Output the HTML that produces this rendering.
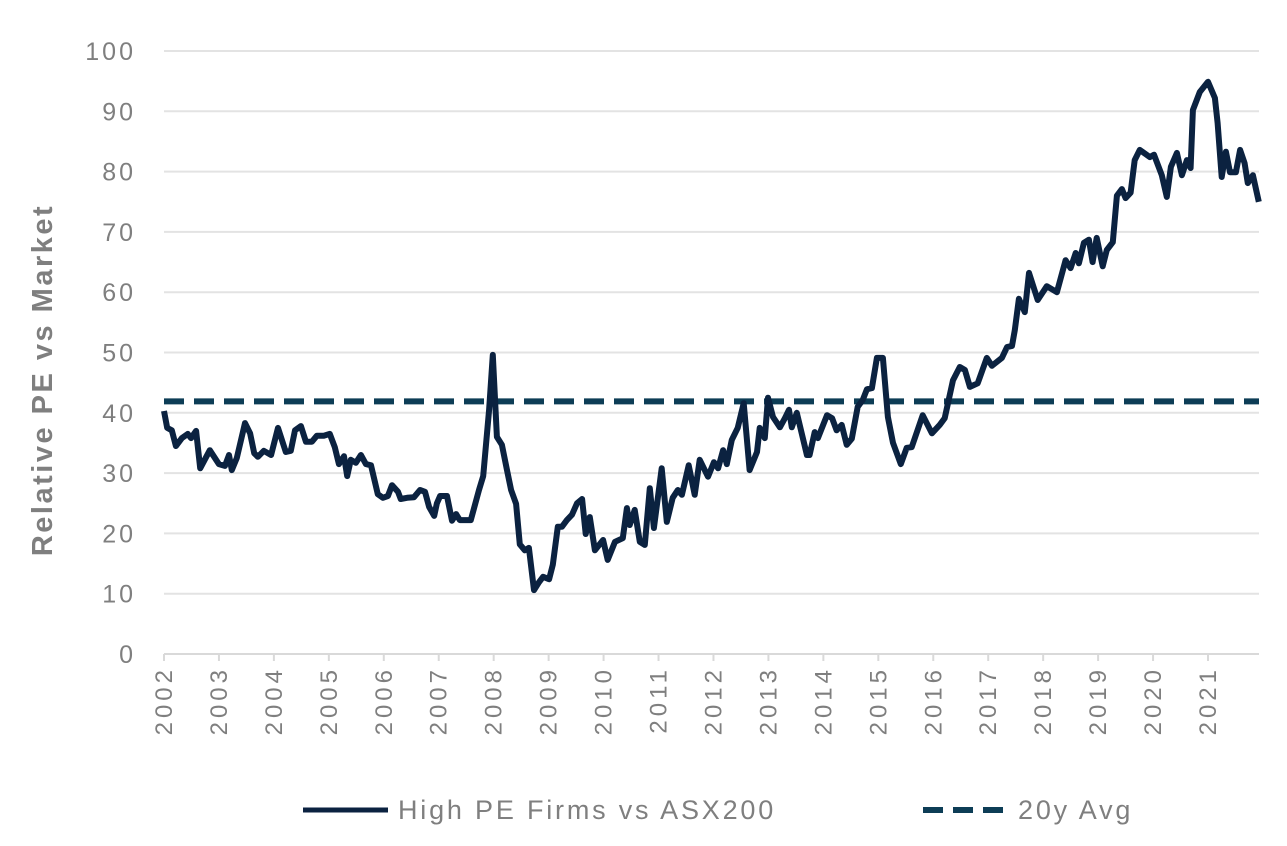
<!DOCTYPE html>
<html><head><meta charset="utf-8"><style>
body{margin:0;background:#fff;}
svg text{font-family:"Liberation Sans",sans-serif;}
</style></head><body>
<svg id="chart" width="1287" height="841" viewBox="0 0 1287 841" xmlns="http://www.w3.org/2000/svg">
<g id="grid"></g>
<g id="yticks"></g>
<g id="xticks"></g>
<line x1="164" y1="654" x2="1259" y2="654" stroke="#d9d9d9" stroke-width="2"/>
<line id="avgline" stroke="#0d3d56" stroke-width="6" stroke-dasharray="20,10"/>
<path id="series" fill="none" stroke="#0b2240" stroke-width="6" stroke-linejoin="round"/>
<text transform="translate(52,380) rotate(-90)" text-anchor="middle" font-size="29" font-weight="bold" letter-spacing="2.5" fill="#7f7f7f">Relative PE vs Market</text>
<g>
<line x1="303" y1="810" x2="388" y2="810" stroke="#0b2240" stroke-width="5"/>
<text x="398" y="819" font-size="27" letter-spacing="2.8" fill="#7f7f7f">High PE Firms vs ASX200</text>
<line x1="923" y1="810" x2="1008" y2="810" stroke="#0d3d56" stroke-width="6" stroke-dasharray="20,10"/>
<text x="1018" y="819" font-size="27" letter-spacing="2.8" fill="#7f7f7f">20y Avg</text>
</g>
</svg>
<script>
const months = [0,0.7,1.7,2.6,3.9,5.2,5.9,7.0,7.9,10.0,12.0,13.3,14.2,14.8,15.9,17.7,18.8,19.7,20.5,21.8,23.4,24.9,26.6,27.7,28.6,29.9,31.0,32.3,33.4,34.9,36.2,37.3,38.2,39.3,40.0,40.8,41.9,43.0,44.1,45.2,46.7,47.8,48.9,49.8,51.1,51.7,53.1,54.6,55.9,57.0,57.9,59.0,59.6,60.3,61.8,62.9,63.8,64.6,67.0,68.8,69.7,71.0,71.8,72.7,73.8,74.9,75.8,76.9,77.7,78.8,79.7,80.8,81.9,82.8,84.1,84.9,86.0,86.9,88.0,89.1,90.2,91.3,92.1,93.0,94.1,95.9,96.9,98.5,100.2,101.1,101.7,102.8,103.9,105.0,106.1,107.0,108.7,109.8,111.1,112.2,113.1,114.6,115.9,117.0,118.8,120.1,121.0,122.1,122.9,124.0,125.3,126.6,127.9,129.5,130.1,131.2,131.9,133.0,134.5,135.6,136.5,137.1,138.2,140.4,141.0,142.1,142.8,144.8,145.9,146.9,148.0,149.1,150.2,151.5,152.6,153.5,154.6,155.7,157.0,158.1,159.2,160.9,162.2,163.3,165.7,167.7,169.4,170.5,172.3,173.8,174.9,176.0,177.7,179.7,180.8,183.0,184.1,185.2,185.8,186.7,188.0,188.9,190.8,192.8,195.0,196.9,198.0,199.1,199.8,200.9,202.0,202.8,203.7,205.0,205.9,207.2,208.1,209.2,210.0,211.1,212.0,213.1,215.3,216.2,217.9,219.0,219.9,221.2,222.3,223.4,224.2,224.7,226.2,228.0,229.5,230.1,231.0,231.9,232.8,234.1,235.0,236.0,236.7,237.8,239.1];
const values = [40.3,37.5,37.1,34.5,35.8,36.5,35.8,37.0,30.8,33.8,31.5,31.2,33.0,30.5,32.5,38.3,36.6,33.3,32.7,33.7,33.0,37.5,33.5,33.7,37.1,37.8,35.2,35.2,36.2,36.2,36.5,34.3,31.5,32.8,29.5,32.2,31.7,33.0,31.5,31.3,26.5,25.9,26.2,28.0,26.9,25.7,25.9,26.0,27.2,26.9,24.4,22.9,25.0,26.2,26.2,22.1,23.2,22.2,22.2,27.2,29.5,40.5,49.6,36.0,34.7,30.5,27.2,24.9,18.2,17.2,17.6,10.6,11.9,12.8,12.4,14.8,21.1,21.1,22.2,23.1,25.0,25.7,19.9,22.7,17.2,18.9,15.6,18.6,19.2,24.2,21.4,23.9,18.6,18.1,27.5,20.9,30.8,21.9,25.9,27.2,26.4,31.3,26.4,32.2,29.4,31.8,30.8,33.8,31.5,35.5,37.5,41.6,30.5,33.5,37.5,35.8,42.5,39.3,37.6,39.1,40.5,37.6,40.0,33.0,33.0,36.8,35.8,39.6,39.1,37.1,38.0,34.7,35.7,41.0,42.1,43.9,44.1,49.1,49.1,39.3,35.0,31.5,34.2,34.3,39.6,36.6,38.0,39.1,45.4,47.6,47.1,44.3,44.9,49.1,47.8,49.1,50.9,51.1,53.7,58.9,56.7,63.2,58.7,61.0,60.0,65.3,64.0,66.5,64.8,68.2,68.7,65.0,69.0,64.3,67.0,68.3,76.0,77.1,75.6,76.5,81.9,83.6,82.4,82.8,79.4,75.8,80.8,83.1,79.4,81.9,80.6,90.2,93.2,94.9,92.2,88.1,79.1,83.3,79.9,79.9,83.6,81.4,78.1,79.4,75.0];
const avgValue = [41.9];
const yTicks = [0,10,20,30,40,50,60,70,80,90,100];
const xYears = [2002,2003,2004,2005,2006,2007,2008,2009,2010,2011,2012,2013,2014,2015,2016,2017,2018,2019,2020,2021];

const NS='http://www.w3.org/2000/svg';
const X0=164,X1=1259,Y0=654,Y100=51;
function xs(m){return X0+m*(1208-X0)/228;}
function ys(v){return Y0-v*(Y0-Y100)/100;}
const grid=document.getElementById('grid'),yt=document.getElementById('yticks'),xt=document.getElementById('xticks');
yTicks.forEach(t=>{
  if(t>0){const l=document.createElementNS(NS,'line');
  
  
  l.setAttribute('x1',X0);l.setAttribute('x2',X1);l.setAttribute('y1',ys(t));l.setAttribute('y2',ys(t));
  l.setAttribute('stroke','#e3e3e3');l.setAttribute('stroke-width','2');grid.appendChild(l);}
  const tx=document.createElementNS(NS,'text');
  
  
  tx.setAttribute('x',136);tx.setAttribute('y',ys(t)+9);tx.setAttribute('text-anchor','end');
  tx.setAttribute('font-size','25');tx.setAttribute('letter-spacing','3');tx.setAttribute('fill','#7f7f7f');tx.textContent=t;yt.appendChild(tx);
});
xYears.forEach((yr,i)=>{
  const x=xs(i*12);
  const tk=document.createElementNS(NS,'line');
  
  
  tk.setAttribute('x1',x);tk.setAttribute('x2',x);tk.setAttribute('y1',654);tk.setAttribute('y2',661);
  tk.setAttribute('stroke','#d9d9d9');tk.setAttribute('stroke-width','2');xt.appendChild(tk);
  const tx=document.createElementNS(NS,'text');
  
  
  tx.setAttribute('transform','translate('+(x+8)+',666) rotate(-90)');
  tx.setAttribute('text-anchor','end');tx.setAttribute('font-size','24');tx.setAttribute('letter-spacing','4');tx.setAttribute('fill','#7f7f7f');
  tx.textContent=yr;xt.appendChild(tx);
});
const a=document.getElementById('avgline');
a.setAttribute('x1',X0);a.setAttribute('x2',X1);a.setAttribute('y1',ys(avgValue[0]));a.setAttribute('y2',ys(avgValue[0]));
document.getElementById('series').setAttribute('d',months.map((m,i)=>(i?'L':'M')+xs(m).toFixed(1)+','+ys(values[i]).toFixed(1)).join(''));
</script>
</body></html>
